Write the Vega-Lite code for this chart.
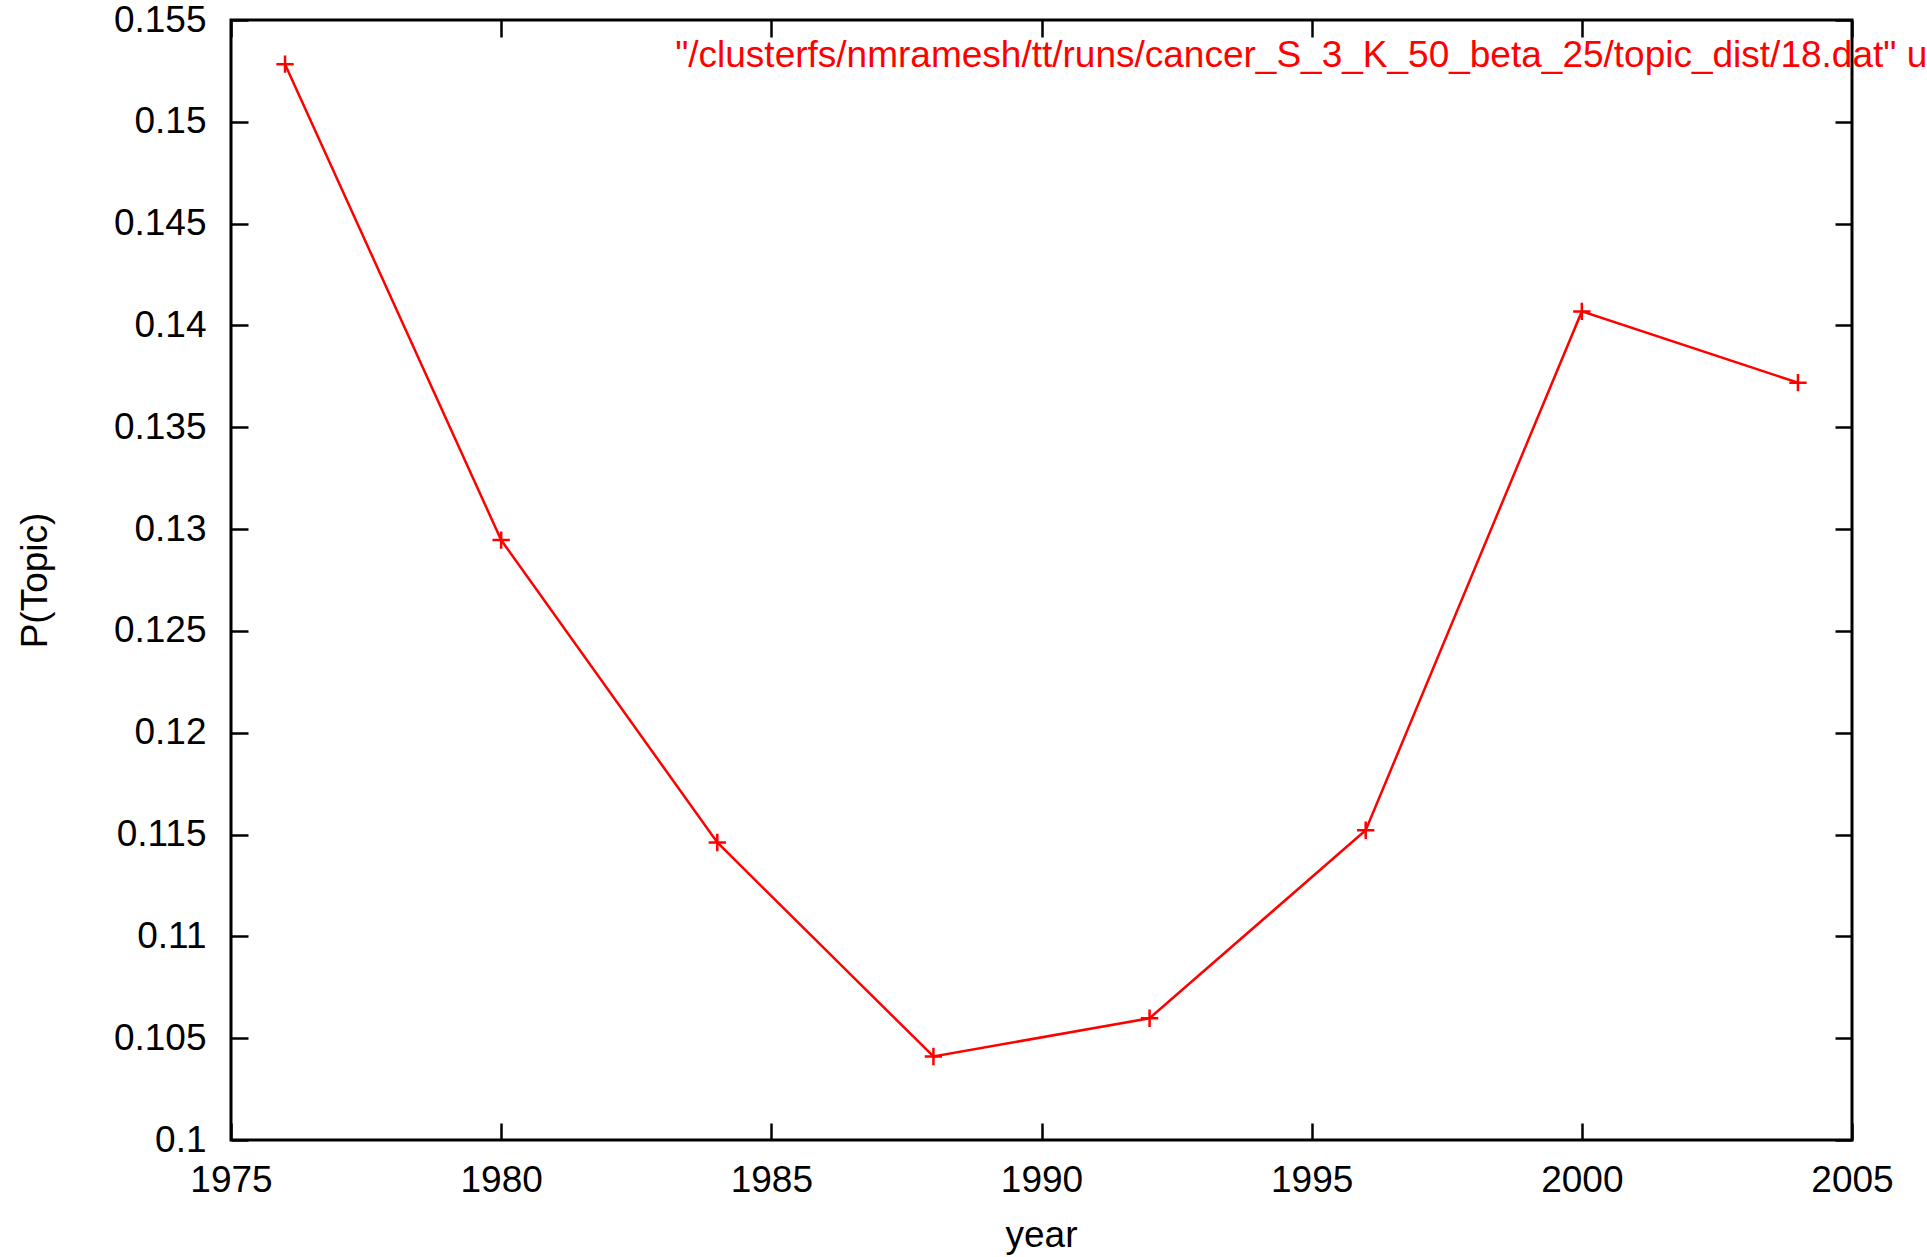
{
  "$schema": "https://vega.github.io/schema/vega-lite/v6.json",
  "width": 1621,
  "height": 1120,
  "autosize": {"type": "none"},
  "padding": {"left": 231, "top": 20, "right": 75, "bottom": 117},
  "background": "white",
  "config": {
    "view": {"stroke": "black", "strokeWidth": 3},
    "font": "Liberation Sans",
    "axis": {
      "grid": false,
      "domain": false,
      "tickColor": "black",
      "tickWidth": 2.5,
      "tickSize": -17,
      "labelFont": "Liberation Sans",
      "labelFontSize": 37,
      "labelColor": "black",
      "titleFont": "Liberation Sans",
      "titleFontSize": 37,
      "titleFontWeight": "normal",
      "titleColor": "black"
    }
  },
  "datasets": {
    "series": [
      {"year": 1976, "p": 0.15283},
      {"year": 1980, "p": 0.12946},
      {"year": 1984, "p": 0.11461},
      {"year": 1988, "p": 0.1041},
      {"year": 1992, "p": 0.10598},
      {"year": 1996, "p": 0.11521},
      {"year": 2000, "p": 0.14069},
      {"year": 2004, "p": 0.13719}
    ],
    "key": [
      {"year": 1983.22, "p": 0.15269, "label": "\"/clusterfs/nmramesh/tt/runs/cancer_S_3_K_50_beta_25/topic_dist/18.dat\" u 1:2"}
    ]
  },
  "layer": [
    {
      "data": {"name": "series"},
      "mark": {"type": "line", "color": "#ff0000", "strokeWidth": 2.5},
      "encoding": {
        "x": {
          "field": "year", "type": "quantitative",
          "scale": {"domain": [1975, 2005], "nice": false, "zero": false},
          "axis": {
            "orient": "bottom",
            "values": [1975, 1980, 1985, 1990, 1995, 2000, 2005],
            "format": "d",
            "labelPadding": 39,
            "labelFlush": false,
            "title": "year",
            "titleX": 810,
            "titleY": 106,
            "titleBaseline": "alphabetic",
            "titleAlign": "center"
          }
        },
        "y": {
          "field": "p", "type": "quantitative",
          "scale": {"domain": [0.1, 0.155], "nice": false, "zero": false},
          "axis": {
            "orient": "left",
            "values": [0.1, 0.105, 0.11, 0.115, 0.12, 0.125, 0.13, 0.135, 0.14, 0.145, 0.15, 0.155],
            "format": "~g",
            "labelPadding": 42,
            "labelFlush": false,
            "title": "P(Topic)",
            "titleAngle": 270,
            "titleX": -196,
            "titleY": 560,
            "titleBaseline": "middle",
            "titleAlign": "center"
          }
        }
      }
    },
    {
      "data": {"name": "series"},
      "mark": {
        "type": "point",
        "shape": "M-1,0H1M0,-1V1",
        "filled": false,
        "stroke": "#ff0000",
        "strokeWidth": 2.5,
        "size": 300,
        "opacity": 1
      },
      "encoding": {
        "x": {
          "field": "year", "type": "quantitative",
          "scale": {"domain": [1975, 2005], "nice": false, "zero": false},
          "axis": {
            "orient": "top",
            "values": [1975, 1980, 1985, 1990, 1995, 2000, 2005],
            "labels": false,
            "title": null
          }
        },
        "y": {
          "field": "p", "type": "quantitative",
          "scale": {"domain": [0.1, 0.155], "nice": false, "zero": false},
          "axis": {
            "orient": "right",
            "values": [0.1, 0.105, 0.11, 0.115, 0.12, 0.125, 0.13, 0.135, 0.14, 0.145, 0.15, 0.155],
            "labels": false,
            "title": null
          }
        }
      }
    },
    {
      "data": {"name": "key"},
      "mark": {
        "type": "text",
        "align": "left",
        "baseline": "alphabetic",
        "color": "#ff0000",
        "font": "Liberation Sans",
        "fontSize": 37
      },
      "encoding": {
        "x": {"field": "year", "type": "quantitative", "scale": {"domain": [1975, 2005], "nice": false, "zero": false}, "axis": null},
        "y": {"field": "p", "type": "quantitative", "scale": {"domain": [0.1, 0.155], "nice": false, "zero": false}, "axis": null},
        "text": {"field": "label"}
      }
    }
  ],
  "resolve": {"axis": {"x": "independent", "y": "independent"}}
}
